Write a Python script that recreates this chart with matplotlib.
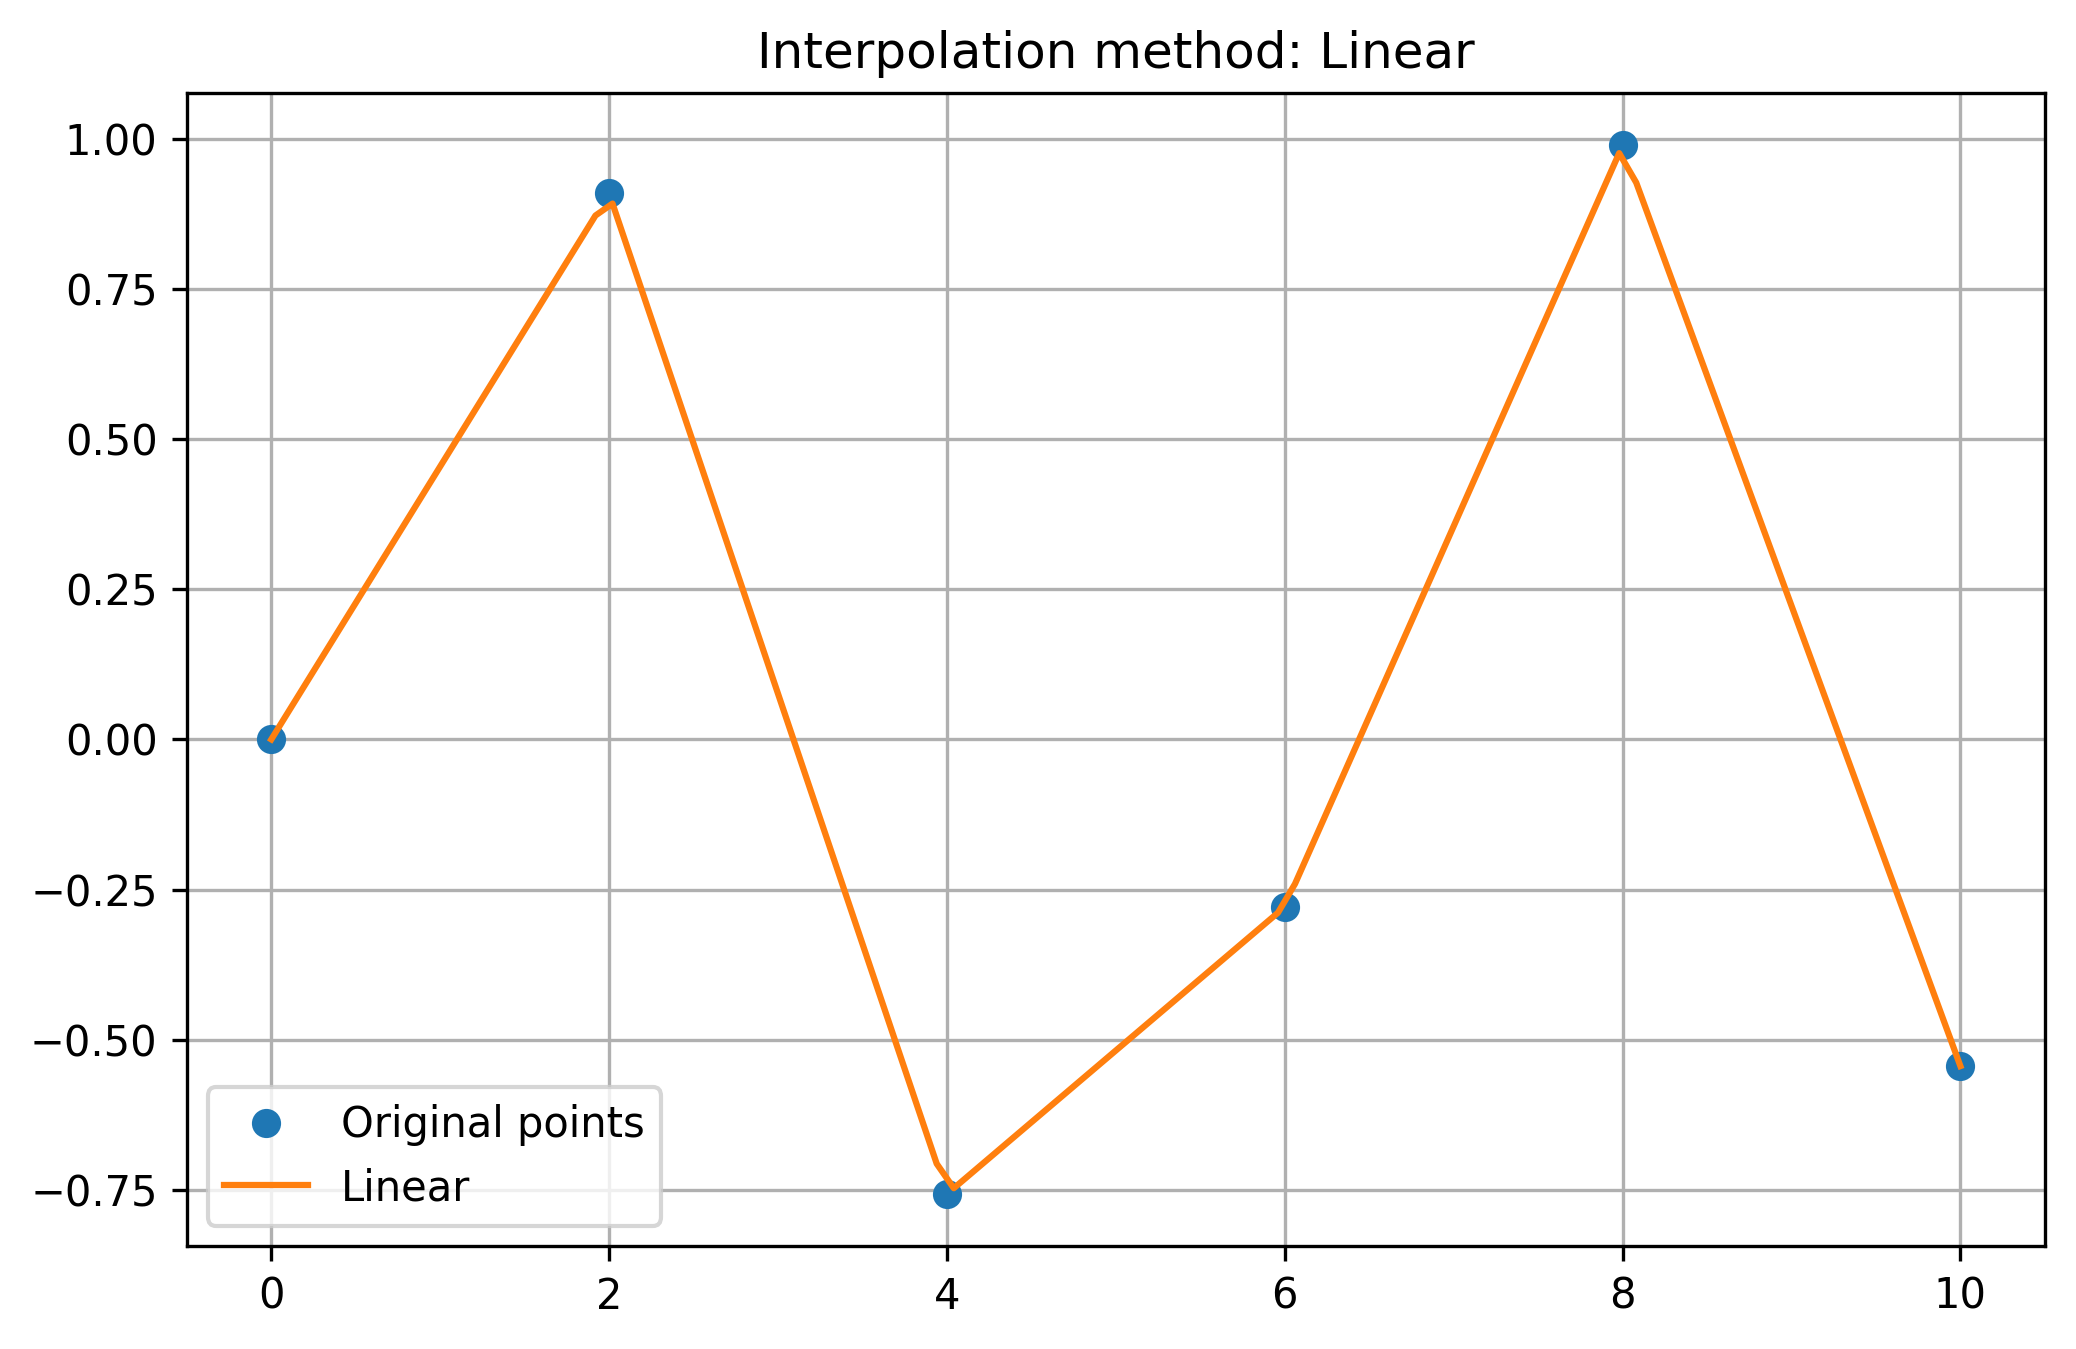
import matplotlib

matplotlib.use("Agg")
import matplotlib.pyplot as plt
import numpy as np

x_pts = [0, 2, 4, 6, 8, 10]
y_pts = [0.0, 0.909, -0.757, -0.279, 0.989, -0.544]
method = "Linear"

x_fine = np.linspace(0, 10, 100)
y_fine = np.interp(x_fine, x_pts, y_pts)

fig, ax = plt.subplots(figsize=(6.92, 4.497), dpi=300)
fig.subplots_adjust(left=0.09, right=0.985, top=0.931, bottom=0.076)
ax.plot(x_pts, y_pts, "o", label="Original points")
ax.plot(x_fine, y_fine, "-", label=method)
ax.set_title(f"Interpolation method: {method}")
ax.legend(loc="lower left")
ax.grid(True)
fig.savefig("out.png", dpi=300)
